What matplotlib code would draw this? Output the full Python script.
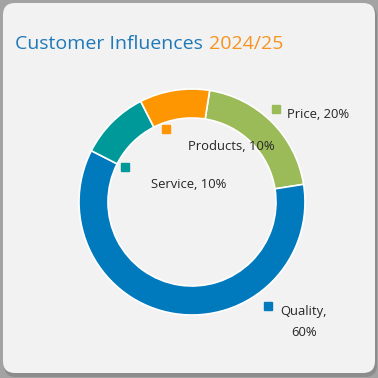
import matplotlib
matplotlib.use("Agg")
import matplotlib.pyplot as plt
from matplotlib.patches import FancyBboxPatch

# data (drawn clockwise from the top)
categories = ['Price', 'Quality', 'Service', 'Products']
shares = [20, 60, 10, 10]
colors = ['#9bbb59', '#0079bd', '#00999a', '#fd9600']

# label layout in pixels (x, y from top)
label_pos = {'Price': (287, 114), 'Products': (188, 147),
             'Service': (151, 185), 'Quality': (280, 311)}
marker_pos = {'Price': (276, 109), 'Products': (166, 129),
              'Service': (125, 167), 'Quality': (268, 306)}
label_text = {'Price': 'Price, 20%', 'Products': 'Products, 10%',
              'Service': 'Service, 10%', 'Quality': 'Quality,\n60%'}

H = 378
fig = plt.figure(figsize=(3.78, 3.78), dpi=100)
fig.patch.set_facecolor('#a3a3a3')
ax = fig.add_axes([0, 0, 1, 1])
ax.set_xlim(0, 378)
ax.set_ylim(0, 378)
ax.axis('off')

# soft shadow under the card, then the card itself
shadow = FancyBboxPatch((4, 1), 373, 372, boxstyle='round,pad=0,rounding_size=12',
                        facecolor='#8c8c8c', edgecolor='none')
ax.add_patch(shadow)
card = FancyBboxPatch((3, 5), 372, 370, boxstyle='round,pad=0,rounding_size=12',
                      facecolor='#f2f2f2', edgecolor='none')
ax.add_patch(card)

t1 = ax.text(15, H - 44, 'Customer Influences', fontsize=14, color='#1f78b8',
             family='Open Sans', va='center', ha='left')
fig.canvas.draw()
bb = t1.get_window_extent()
ax.text(bb.x1 + 6, H - 44, '2024/25', fontsize=14, color='#f7931e',
        family='Open Sans', va='center', ha='left')

ax.pie(shares, colors=colors, startangle=81, counterclock=False,
       radius=113, center=(192, H - 202), frame=True,
       wedgeprops=dict(width=29, edgecolor='white', linewidth=1.2))
ax.set_xlim(0, 378)
ax.set_ylim(0, 378)
ax.set_aspect('auto')
ax.axis('off')

for i, cat in enumerate(categories):
    mx, my = marker_pos[cat]
    ax.plot(mx, H - my, marker='s', markersize=6, color=colors[i], linestyle='none')
    tx, ty = label_pos[cat]
    if cat == 'Quality':
        ax.text(tx, H - ty, 'Quality,', fontsize=9.4, color='#262626',
                family='Open Sans', va='center', ha='left')
        ax.text(tx + 24, H - ty - 22, '60%', fontsize=9.4, color='#262626',
                family='Open Sans', va='center', ha='center')
    else:
        ax.text(tx, H - ty, label_text[cat], fontsize=9.4, color='#262626',
                family='Open Sans', va='center', ha='left')

fig.savefig('out.png', dpi=100)
